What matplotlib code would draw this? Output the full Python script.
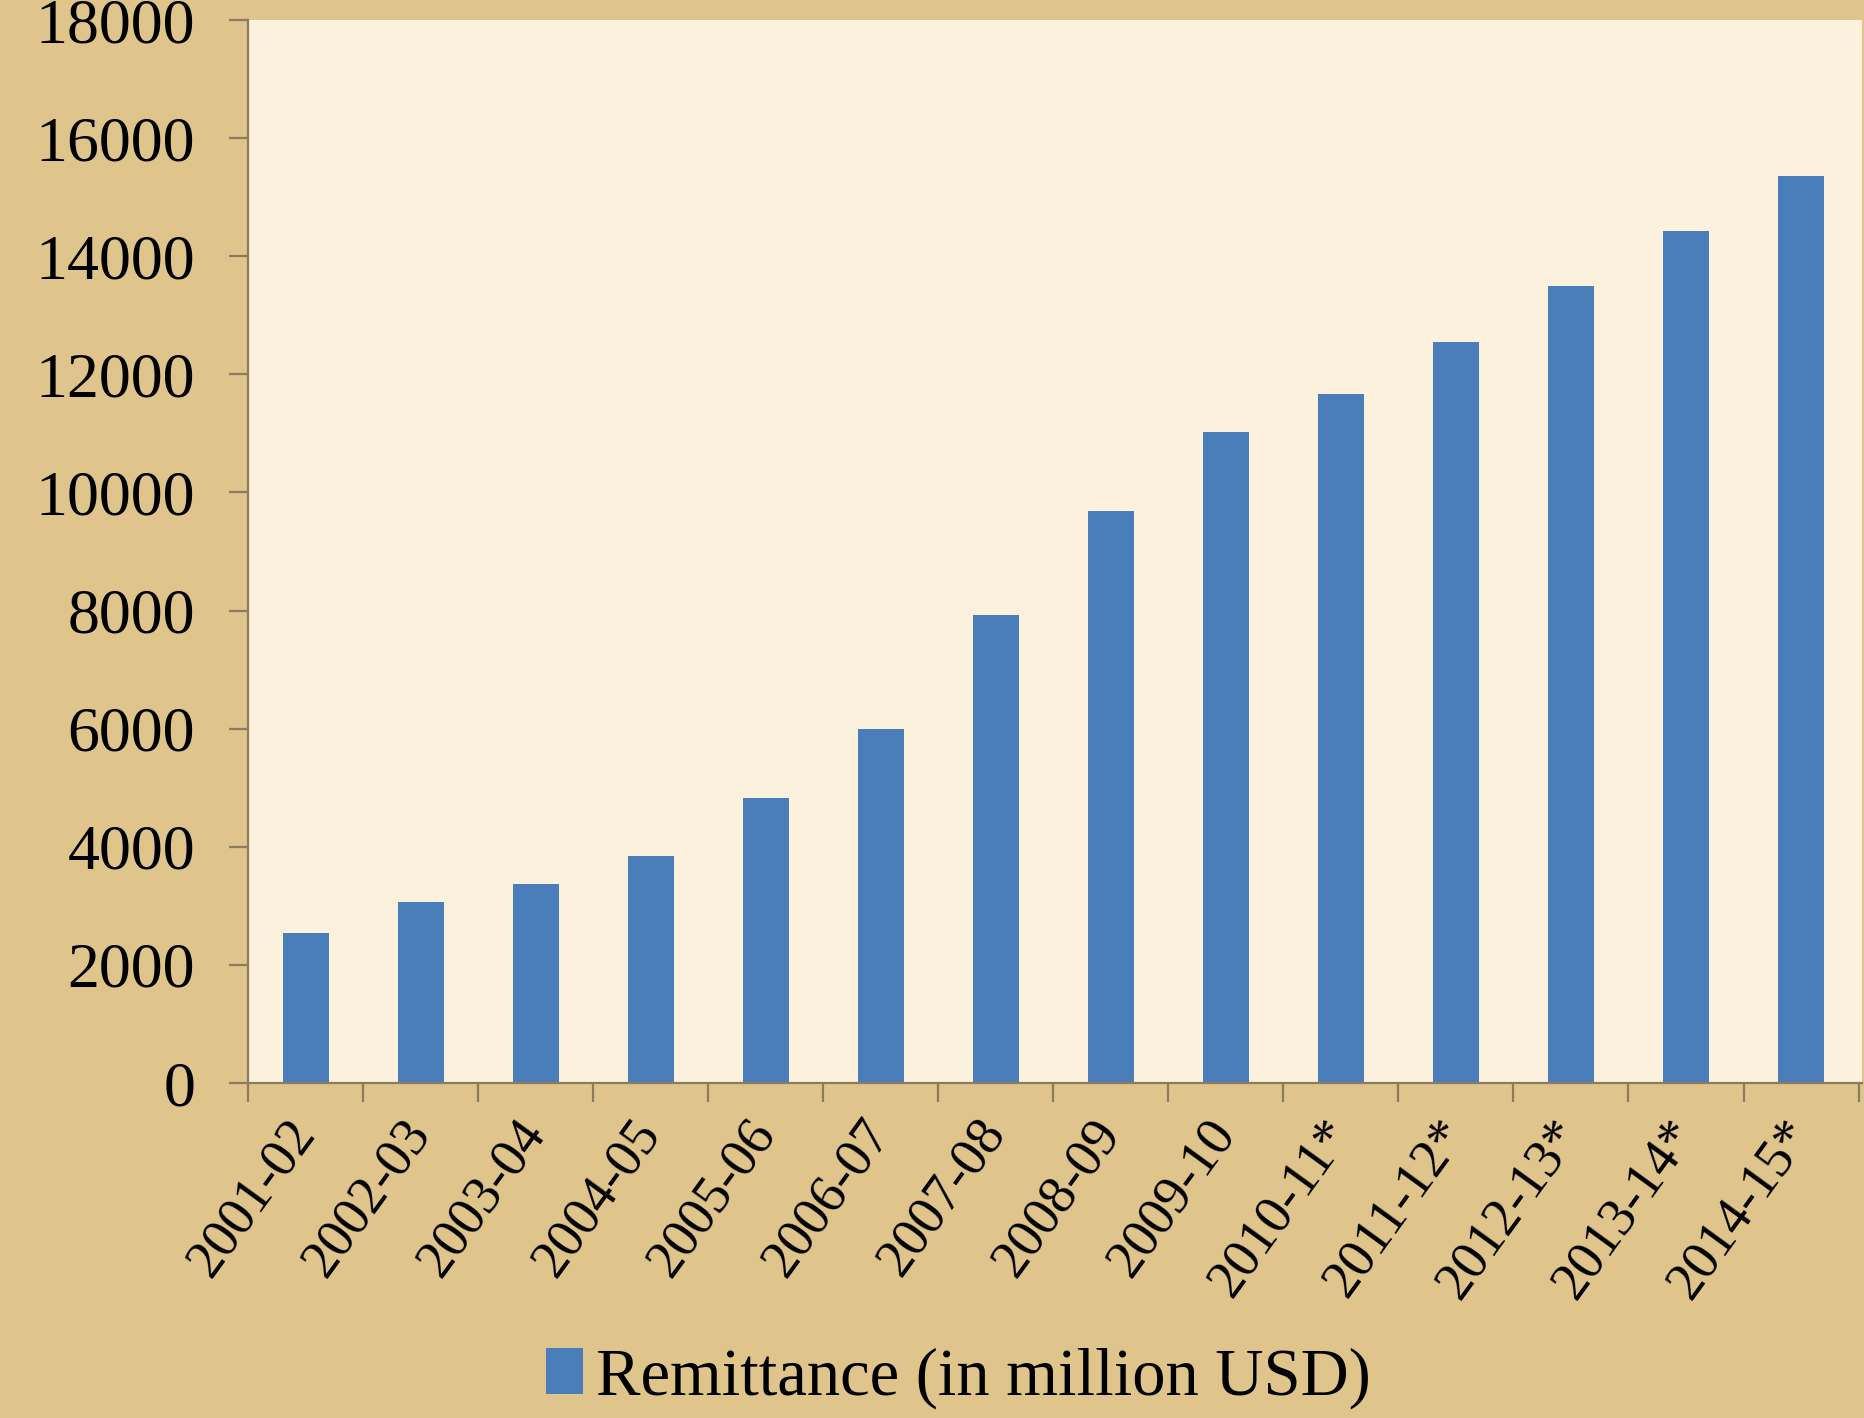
import numpy as np
import matplotlib.pyplot as plt
from matplotlib.patches import Patch

years = ['2001-02', '2002-03', '2003-04', '2004-05', '2005-06', '2006-07', '2007-08',
         '2008-09', '2009-10', '2010-11*', '2011-12*', '2012-13*', '2013-14*', '2014-15*']
remittance = [2540, 3065, 3370, 3845, 4820, 5990, 7920, 9680, 11030, 11670,
              12540, 13490, 14420, 15350]
yticks = list(range(0, 18001, 2000))

bar_color = '#4a7ebb'
edge_color = '#8c7b60'

plt.rcParams['font.family'] = ['Liberation Serif', 'DejaVu Serif']

fig = plt.figure(figsize=(18.65, 14.18), dpi=100, facecolor='#dfc58c')
ax = fig.add_axes([248 / 1865, 1 - 1083 / 1418, (1862 - 248) / 1865, (1083 - 20) / 1418])
ax.set_facecolor('#fbf1dc')

x = np.arange(len(years))
ax.bar(x, remittance, width=0.4, color=bar_color, label='Remittance (in million USD)')

ax.set_xlim(-0.5, len(years) - 0.5 + 0.03)
ax.set_ylim(0, 18000)

for s in ['top', 'right']:
    ax.spines[s].set_visible(False)
for s in ['left', 'bottom']:
    ax.spines[s].set_color(edge_color)
    ax.spines[s].set_linewidth(1.6)

# boundary ticks on x, labels at category centres
ax.set_xticks(np.arange(-0.5, len(years), 1.0))
ax.set_xticklabels([])
ax.set_xticks(x, minor=True)
ax.set_xticklabels(years, minor=True, rotation=54, ha='right', va='center',
                   rotation_mode='anchor', fontsize=39)
ax.tick_params(axis='x', which='major', direction='out', length=14, width=1.6, color=edge_color)
ax.tick_params(axis='x', which='minor', length=0, pad=30)

ax.set_yticks(yticks)
ax.set_yticklabels([str(v) for v in yticks], fontsize=46)
ax.tick_params(axis='y', direction='out', length=14, width=1.6, color=edge_color, pad=24)

handle = Patch(facecolor=bar_color)
fig.legend([handle], ['Remittance (in million USD)'], loc='center',
           bbox_to_anchor=(0.514, 1 - 1378 / 1418), frameon=False, fontsize=48,
           handlelength=0.55, handleheight=0.7, handletextpad=0.2)

fig.savefig('out.png', dpi=100, facecolor=fig.get_facecolor())
